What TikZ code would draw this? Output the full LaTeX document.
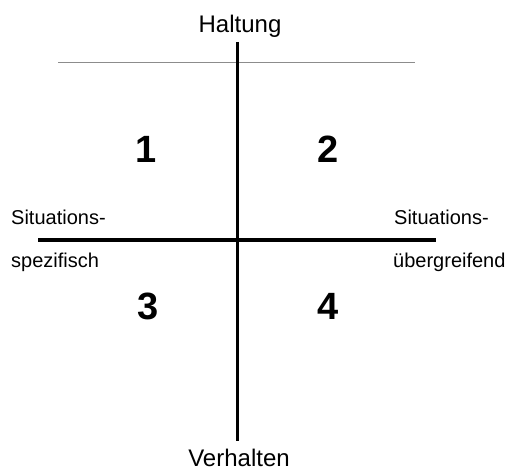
\documentclass[tikz,border=0pt]{standalone}
\usepackage{fontspec}
\setmainfont{Liberation Sans}
\usetikzlibrary{positioning}
\tikzset{
  axis/.style={line width=3.8pt,color=black},
  rim/.style={line width=1pt,color=black!45},
  quad/.style={font=\fontsize{38}{40}\selectfont\bfseries},
  pole/.style={font=\fontsize{24}{27}\selectfont,inner sep=0pt,anchor=base},
  side/.style={font=\fontsize{20}{22}\selectfont,inner sep=0pt},
}

\begin{document}
\begin{tikzpicture}[x=1pt,y=-1pt]
  \useasboundingbox (0,0) rectangle (514,470);

  % axes
  \coordinate (top)    at (237.5,42);
  \coordinate (bottom) at (237.5,441);
  \coordinate (left)   at (38,240);
  \coordinate (right)  at (436,240);
  \coordinate (rimL)   at (58,63);
  \coordinate (rimR)   at (415,63);

  \draw[rim] (rimL) -- (rimR);
  \draw[axis] (top) -- (bottom);
  \draw[axis] (left) -- (right);

  % poles
  \node[pole] (haltung)   at (240,33)  {Haltung};
  \node[pole] (verhalten) at (239,466) {Verhalten};

  \node[side,anchor=west] (spezA) at (11,217) {Situations-};
  \node[side,anchor=west] (spezB) at (11,262) {spezifisch};
  \node[side,anchor=west] (uebA)  at (394,217) {Situations-};
  \node[side,anchor=west] (uebB)  at (393,262) {übergreifend};

  % quadrants
  \node[quad] (q1) at (146,149) {1};
  \node[quad] (q2) at (328,149) {2};
  \node[quad] (q3) at (148,306) {3};
  \node[quad] (q4) at (328,306) {4};

\end{tikzpicture}
\end{document}
